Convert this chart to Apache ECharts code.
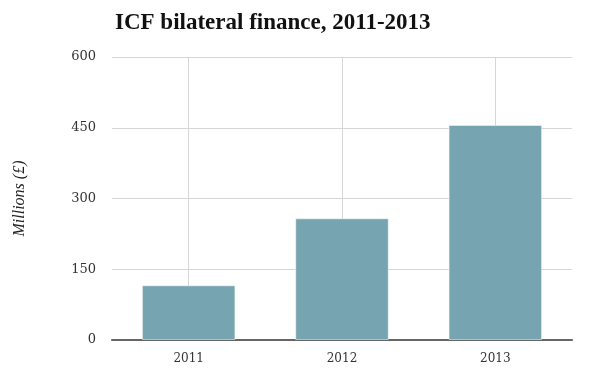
<!DOCTYPE html>
<html><head><meta charset="utf-8">
<script src="https://cdn.jsdelivr.net/npm/echarts@6/dist/echarts.min.js"></script>
<style>html,body{margin:0;padding:0;background:#fff}#c{width:600px;height:387px}</style>
</head><body><div id="c"></div>
<script>
const categories = ['2011', '2012', '2013'];
const values = [116, 258, 456];
const yTicks = [0, 150, 300, 450, 600];

const font = "'Liberation Serif', 'DejaVu Serif', serif";
const labelFont = "'DejaVu Serif', serif";
const chart = echarts.init(document.getElementById('c'));
chart.setOption({
  animation: false,
  title: {
    text: 'ICF bilateral finance, 2011-2013',
    left: 110, top: 7,
    textStyle: { fontFamily: font, fontWeight: 'bold', fontSize: 23, color: '#111' }
  },
  grid: { left: 112, right: 28, top: 57, bottom: 47 },
  xAxis: {
    type: 'category', data: categories,
    axisLine: { lineStyle: { color: '#666', width: 2 } },
    axisTick: { show: false },
    axisLabel: { fontFamily: labelFont, fontSize: 12, color: '#333', margin: 13 },
    splitLine: { show: true, alignWithLabel: true, lineStyle: { color: '#d6d6d6', width: 1 } }
  },
  yAxis: {
    type: 'value', min: yTicks[0], max: yTicks[yTicks.length - 1], interval: 150,
    name: 'Millions (£)', nameLocation: 'middle', nameGap: 84,
    nameTextStyle: { fontFamily: font, fontStyle: 'italic', fontSize: 16, color: '#222' },
    axisLine: { show: false }, axisTick: { show: false },
    axisLabel: { fontFamily: labelFont, fontSize: 13, color: '#333', margin: 16 },
    splitLine: { lineStyle: { color: '#d6d6d6', width: 1 } }
  },
  series: [{
    type: 'bar', data: values, barWidth: '61%',
    itemStyle: { color: '#76a4b0', borderColor: 'rgba(255,255,255,0.5)', borderWidth: 1 }
  }]
});
</script></body></html>
